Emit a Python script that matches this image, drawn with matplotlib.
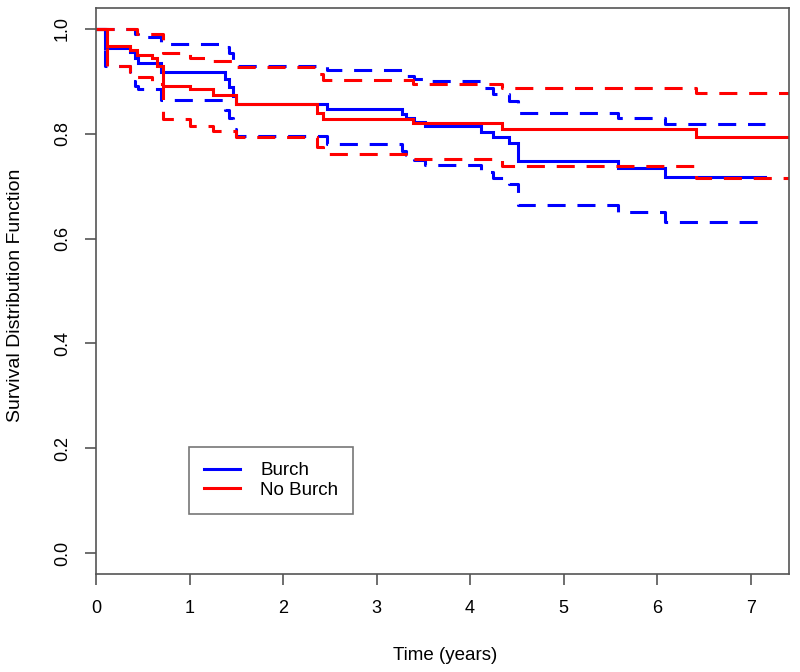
import matplotlib
matplotlib.use("Agg")
import matplotlib.pyplot as plt
from matplotlib.lines import Line2D

plt.rcParams['font.family'] = ['Liberation Sans', 'DejaVu Sans']
plt.rcParams['lines.scale_dashes'] = False

# Kaplan-Meier estimates
burch_t = [0, 0.10, 0.36, 0.42, 0.45, 0.70, 1.38, 1.42, 1.46, 1.50, 2.47, 3.27, 3.32, 3.40, 3.52,
           4.12, 4.25, 4.42, 4.51, 5.58, 6.08, 7.15]
burch_s = [1.0, 0.963, 0.956, 0.944, 0.936, 0.917, 0.905, 0.890, 0.872, 0.857, 0.848, 0.837, 0.830,
           0.823, 0.815, 0.803, 0.793, 0.782, 0.748, 0.734, 0.718, 0.718]
burch_upper = [1.0, 1.0, 1.0, 0.990, 0.985, 0.971, 0.965, 0.955, 0.940, 0.930, 0.922, 0.915, 0.910,
               0.904, 0.900, 0.888, 0.876, 0.862, 0.839, 0.830, 0.818, 0.818]
burch_lower = [1.0, 0.930, 0.901, 0.892, 0.885, 0.864, 0.845, 0.830, 0.810, 0.796, 0.780, 0.768, 0.760,
               0.750, 0.740, 0.728, 0.716, 0.705, 0.665, 0.651, 0.632, 0.632]

noburch_t = [0, 0.12, 0.36, 0.44, 0.60, 0.65, 0.72, 1.00, 1.25, 1.50, 2.36, 2.43, 3.39, 4.34, 6.42, 7.50]
noburch_s = [1.0, 0.968, 0.959, 0.950, 0.944, 0.930, 0.892, 0.885, 0.874, 0.857, 0.839, 0.829, 0.820,
             0.810, 0.793, 0.793]
noburch_upper = [1.0, 1.0, 1.0, 0.990, 0.990, 0.990, 0.955, 0.945, 0.938, 0.927, 0.915, 0.903, 0.895,
                 0.887, 0.878, 0.878]
noburch_lower = [1.0, 0.930, 0.918, 0.908, 0.900, 0.895, 0.828, 0.815, 0.806, 0.793, 0.775, 0.761, 0.751,
                 0.739, 0.716, 0.716]

group_names = ["Burch", "No Burch"]
x_ticks = [0, 1, 2, 3, 4, 5, 6, 7]
y_ticks = [0.0, 0.2, 0.4, 0.6, 0.8, 1.0]

BLUE = '#0000FF'
RED = '#FF0000'
FRAME = '#555555'
LW = 2.2
DASH = (13, 8.5)

fig = plt.figure(figsize=(8.0, 6.72), dpi=100)
ax = fig.add_axes([96/800, 1 - 574/672, (789-96)/800, (574-8)/672])

for t, s, up, lo, col in [(burch_t, burch_s, burch_upper, burch_lower, BLUE),
                          (noburch_t, noburch_s, noburch_upper, noburch_lower, RED)]:
    ax.plot(t, s, drawstyle='steps-post', color=col, lw=LW, solid_joinstyle='miter')
    ax.plot(t, up, drawstyle='steps-post', color=col, lw=LW, dashes=DASH)
    ax.plot(t, lo, drawstyle='steps-post', color=col, lw=LW, dashes=DASH)

ax.set_xlim(0, 7.41)
ax.set_ylim(-0.04, 1.04)
ax.set_xticks(x_ticks)
ax.set_xticklabels([str(v) for v in x_ticks])
ax.set_yticks(y_ticks)
ax.set_yticklabels([f"{v:.1f}" for v in y_ticks], rotation=90, va='center')

for sp in ax.spines.values():
    sp.set_color(FRAME)
    sp.set_linewidth(1.2)
ax.tick_params(axis='both', direction='out', length=8, width=1.2, color=FRAME,
               labelsize=13, labelcolor='black', pad=11)
ax.tick_params(axis='y', pad=10)

fig.text(445/800, 1 - 655/672, "Time (years)", ha='center', va='center', fontsize=13.5)
fig.text(16/800, 1 - 295/672, "Survival Distribution Function", ha='center', va='center',
         rotation=90, fontsize=14)

handles = [Line2D([], [], color=BLUE, lw=LW), Line2D([], [], color=RED, lw=LW)]
leg = ax.legend(handles, group_names, loc='lower left',
                bbox_to_anchor=((189-96)/693, (574-514)/566),
                fontsize=13.5, frameon=True, fancybox=False, handlelength=1.9,
                handletextpad=1.1, borderpad=0.8, labelspacing=0.15, borderaxespad=0)
leg.get_frame().set_edgecolor(FRAME)
leg.get_frame().set_linewidth(1.2)

fig.savefig("out.png", dpi=100)
